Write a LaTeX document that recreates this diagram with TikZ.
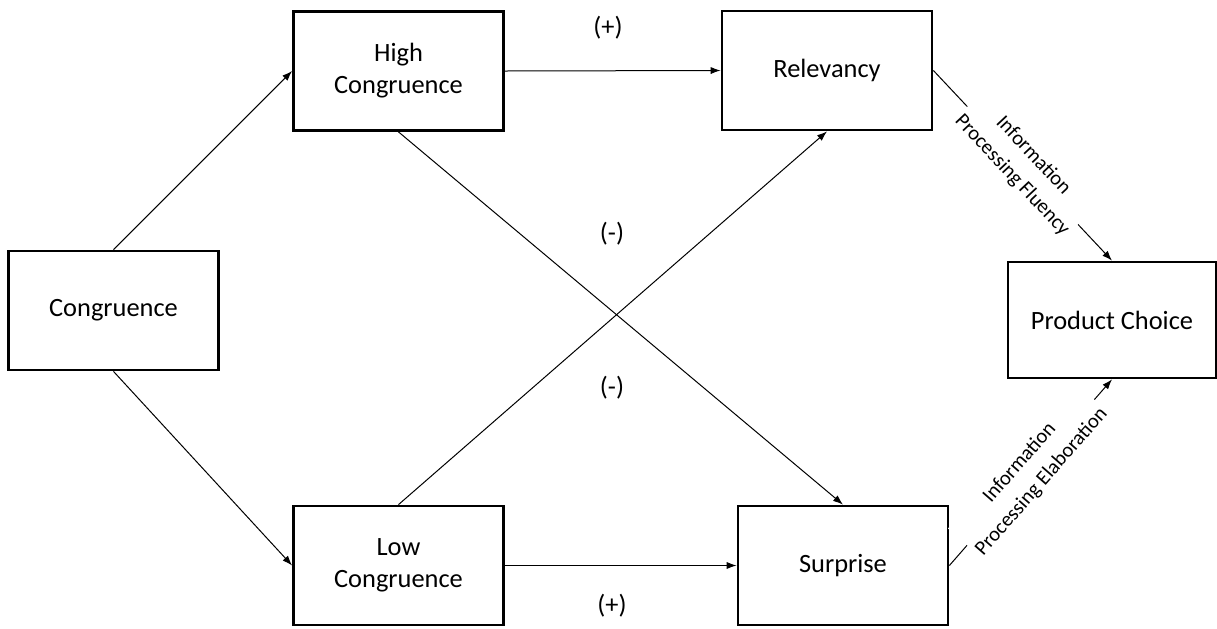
\documentclass[tikz,border=0pt]{standalone}
\usepackage{fontspec}
\setmainfont{Carlito}
\usetikzlibrary{arrows.meta}
\tikzset{
	box/.style={draw, line width=1.4pt, minimum width=105pt, minimum height=59.5pt, inner sep=0pt, align=center, font=\fontsize{13.2}{16}\selectfont},
	link/.style={line width=0.5pt, -{Latex[length=5pt,width=3.6pt]}},
	sign/.style={font=\fontsize{13.2}{16}\selectfont},
	path label/.style={sloped, midway, fill=white, inner sep=1pt, align=center, font=\fontsize{10.3}{14.5}\selectfont}
}
\begin{document}
\begin{tikzpicture}[x=0.5pt, y=-0.5pt]
		\useasboundingbox (0,0) rectangle (1217,628);
		
		% Boxes
		\node[box] (cong) at (113.5, 310.5) {Congruence};
		\node[box] (high) at (398.5, 71) {High\\Congruence};
		\node[box] (low) at (398.5, 565.5) {Low\\Congruence};
		\node[box] (rel) at (827, 70.5) {Relevancy};
		\node[box] (surp) at (843, 565.5) {Surprise};
		\node[box, minimum width=104pt, minimum height=58pt] (prod) at (1112, 320) {Product Choice};
		
		% Links
		\draw[link] (cong.north) -- (high.west);
		\draw[link] (cong.south) -- (low.west);
		\draw[link] (high.east) -- (rel.west);
		\draw[link] (low.east) -- (surp.west);
		\draw[link] (high.south) -- (surp.north);
		\draw[link] (low.north) -- (rel.south);
		\draw[link] (rel.east) -- (prod.north) node[path label] {Information\\Processing Fluency};
		\draw[link] (surp.east) -- (prod.south) node[path label] {Information\\Processing Elaboration};
		
		% Signs
		\node[sign] (pos1) at (608, 28) {(+)};
		\node[sign] (neg1) at (612, 234) {(-)};
		\node[sign] (neg2) at (612, 388) {(-)};
		\node[sign] (pos2) at (612, 606) {(+)};
	\end{tikzpicture}
\end{document}
